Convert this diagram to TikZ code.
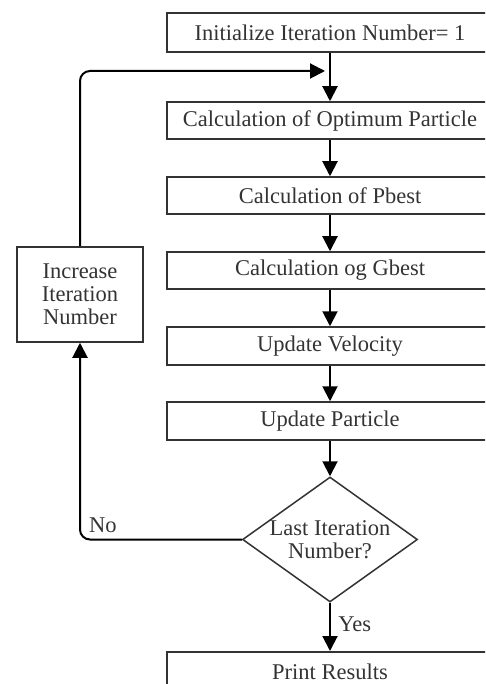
\documentclass[tikz,border=0pt]{standalone}
\usepackage{fontspec}
\setmainfont{Liberation Serif}
\usetikzlibrary{arrows.meta,shapes.geometric}
\definecolor{txt}{HTML}{333333}
\definecolor{brd}{HTML}{333333}
\begin{document}
\begin{tikzpicture}[x=1pt,y=-1pt,
  every node/.style={text=txt,font=\fontsize{22.5}{23}\selectfont},
  stepbox/.style={draw=brd,line width=1.5pt,minimum width=326pt,inner sep=0pt,anchor=center},
  flow/.style={line width=2pt,-{Triangle[length=15pt,width=15pt]}},
  plain/.style={line width=2pt}]
\clip (0,0) rectangle (485,684);
\useasboundingbox (0,0) rectangle (485,684);
\node[stepbox,minimum height=39pt] (b1) at (330,32.5) {Initialize Iteration Number= 1};
\node[stepbox,minimum height=37pt] (b2) at (330,120.5) {Calculation of Optimum Particle};
\node[stepbox,minimum height=37pt] (b3) at (330,195.5) {Calculation of Pbest};
\node[stepbox,minimum height=37pt] (b4) at (330,270.5) {Calculation og Gbest};
\node[stepbox,minimum height=38pt] (b5) at (330,346) {Update Velocity};
\node[stepbox,minimum height=38pt] (b6) at (330,421) {Update Particle};
\node[draw=brd,line width=1.5pt,diamond,aspect=1.4,minimum width=175pt,minimum height=125pt,inner sep=0pt,align=center] (d) at (330,539.5) {Last Iteration\\Number?};
\node[stepbox,minimum height=46pt,anchor=north] (pr) at (330,651) {};
\node at (330,672) (prt) {Print Results};
\node[draw=brd,line width=1.5pt,minimum width=126pt,minimum height=95pt,inner sep=0pt,align=center] (inc) at (80,294.5) {Increase\\Iteration\\Number};
\coordinate (j) at (325,71);
\draw[flow] (b1.south) -- (b2.north);
\draw[flow] (b2.south) -- (b3.north);
\draw[flow] (b3.south) -- (b4.north);
\draw[flow] (b4.south) -- (b5.north);
\draw[flow] (b5.south) -- (b6.north);
\draw[flow] (b6.south) -- (d.north);
\draw[flow] (d.south) -- (pr.north) node[pos=0.45,right=4pt] {Yes};
\draw[flow,rounded corners=10pt] (d.west) -- (d.west -| inc.south) -- (inc.south);
\draw[flow,rounded corners=10pt] (inc.north) -- (inc.north |- j) -- (j);
\node[anchor=south west,inner sep=0pt] (no) at (89,533) {No};
\end{tikzpicture}
\end{document}
